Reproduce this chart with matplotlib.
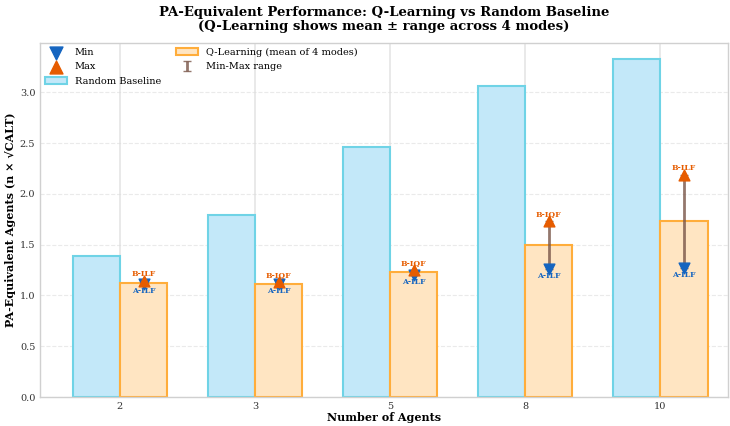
import matplotlib
matplotlib.use("Agg")
import matplotlib.pyplot as plt
import numpy as np

plt.rcParams['font.family'] = ['DejaVu Serif']

agents = ["2", "3", "5", "8", "10"]
random_baseline = [1.39, 1.79, 2.46, 3.06, 3.33]
q_mean = [1.12, 1.11, 1.23, 1.495, 1.73]
q_min = [1.11, 1.11, 1.20, 1.26, 1.27]
q_max = [1.14, 1.13, 1.25, 1.73, 2.19]
min_labels = ["A-ILF", "A-ILF", "A-ILF", "A-ILF", "A-ILF"]
max_labels = ["B-ILF", "B-IQF", "B-IQF", "B-IQF", "B-ILF"]

fig, ax = plt.subplots(figsize=(7.3, 4.26), dpi=100)
x = np.arange(len(agents))
w = 0.35

ax.bar(x - w/2, random_baseline, w, color='#c3e8f9', edgecolor='#6fd3e6', linewidth=1.5,
       label='Random Baseline', zorder=2)
ax.bar(x + w/2, q_mean, w, color='#ffe5c2', edgecolor='#ffad3b', linewidth=1.5,
       label='Q-Learning (mean of 4 modes)', zorder=2)

qx = x + w/2
lo = np.array(q_mean) - np.array(q_min)
hi = np.array(q_max) - np.array(q_mean)
ax.errorbar(qx, q_mean, yerr=[lo, hi], fmt='none', ecolor='#795548', elinewidth=2,
            capsize=3, alpha=0.8, label='Min-Max range', zorder=3)
ax.scatter(qx, q_min, marker='v', s=60, color='#1565c0', label='Min', zorder=4)
ax.scatter(qx, q_max, marker='^', s=60, color='#e65c00', label='Max', zorder=4)

for xi, mn, mx, ml, xl in zip(qx, q_min, q_max, min_labels, max_labels):
    ax.text(xi, mx + 0.03, xl, ha='center', va='bottom', fontsize=5.5, fontweight='bold',
            color='#e65c00', zorder=5)
    ax.text(xi, mn - 0.03, ml, ha='center', va='top', fontsize=5.5, fontweight='bold',
            color='#1565c0', zorder=5)

ax.set_xticks(x)
ax.set_xticklabels(agents)
ax.set_xlim(-0.59, 4.5)
ax.set_ylim(0, 3.49)
ax.set_xlabel('Number of Agents', fontsize=8, fontweight='bold', labelpad=1)
ax.set_ylabel('PA-Equivalent Agents (n × √CALT)', fontsize=8, fontweight='bold', labelpad=3)
ax.set_title('PA-Equivalent Performance: Q-Learning vs Random Baseline\n(Q-Learning shows mean ± range across 4 modes)',
             fontsize=9.5, fontweight='bold', pad=9, linespacing=1.15)
ax.tick_params(axis='both', labelsize=7, colors='#333333', length=0, pad=3.5)
ax.yaxis.grid(True, linestyle='--', color='#dddddd', alpha=0.6, linewidth=0.8, zorder=0)
ax.xaxis.grid(True, linestyle='-', color='#e5e5e5', linewidth=1.2, zorder=0)
ax.set_axisbelow(True)
for s in ax.spines.values():
    s.set_color('#d0d0d0')
    s.set_linewidth(1)

h, l = ax.get_legend_handles_labels()
order = ['Min', 'Max', 'Random Baseline', 'Q-Learning (mean of 4 modes)', 'Min-Max range']
hd = dict(zip(l, h))
ax.legend([hd[k] for k in order], order, ncol=2, loc='upper left', fontsize=7,
          frameon=False, columnspacing=1.6, handlelength=2.2, labelspacing=0.55,
          markerscale=1.2, borderaxespad=0.15)

fig.subplots_adjust(left=0.055, right=0.997, top=0.9, bottom=0.068)
fig.savefig('out.png', dpi=100)
